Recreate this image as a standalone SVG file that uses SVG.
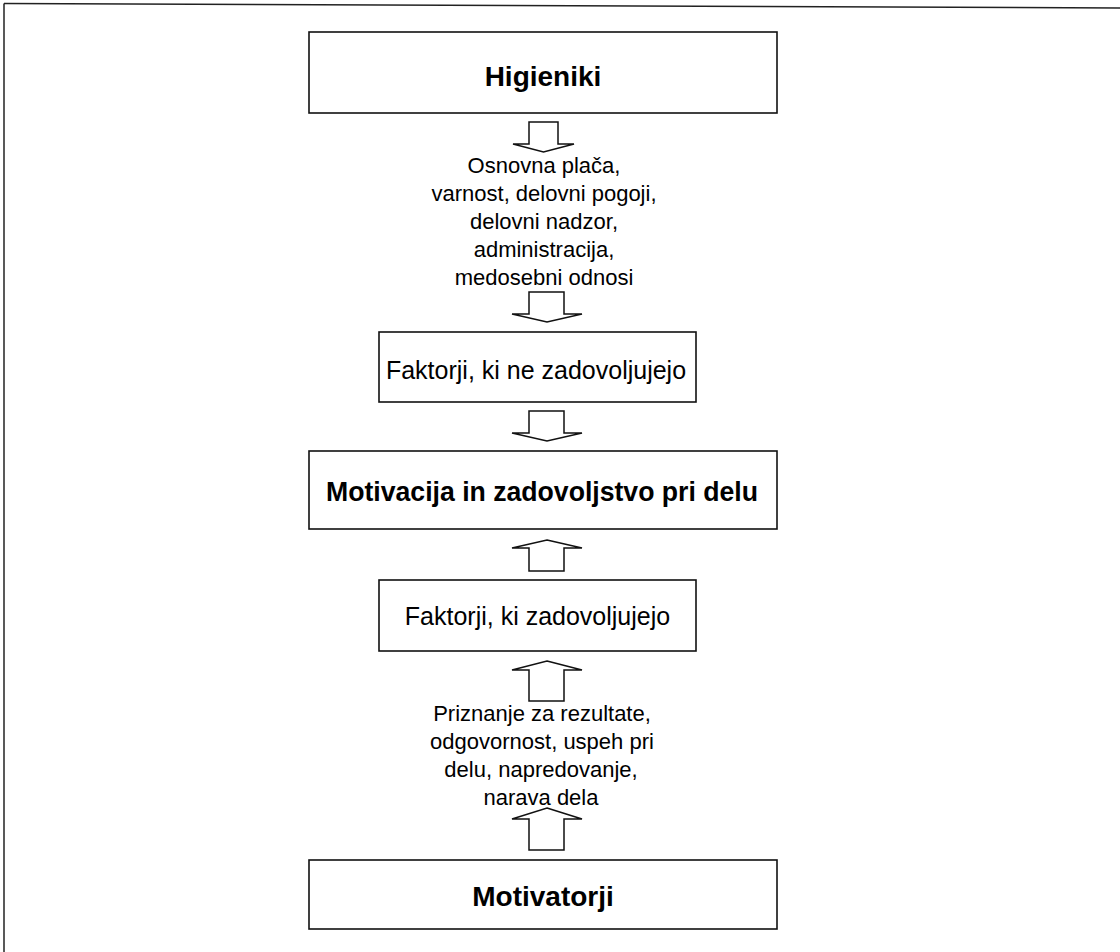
<svg xmlns="http://www.w3.org/2000/svg" width="1120" height="952" viewBox="0 0 1120 952">
  <style>
    .box { fill: #ffffff; stroke: #111111; stroke-width: 1.6; }
    .arrow { fill: none; stroke: #111111; stroke-width: 1.5; stroke-linejoin: miter; }
    .frame { stroke: #222222; stroke-width: 1.5; fill: none; }
    .title { font-family: "Liberation Sans", Arial, sans-serif; font-weight: bold; font-size: 28px; fill: #000000; text-anchor: middle; }
    .mid { font-family: "Liberation Sans", Arial, sans-serif; font-size: 25px; fill: #000000; text-anchor: middle; }
    .lab { font-family: "Liberation Sans", Arial, sans-serif; font-size: 22px; fill: #000000; text-anchor: middle; }
  </style>
  <rect x="0" y="0" width="1120" height="952" fill="#ffffff"/>
  <g id="frame">
    <line class="frame" x1="4" y1="3.5" x2="1120" y2="8"/>
    <line class="frame" x1="4" y1="3.5" x2="4" y2="952"/>
  </g>
  <g id="connectors">
    <polygon class="arrow" points="529,122 558,122 558,144 574,144 543.5,152 513,144 529,144"/>
    <polygon class="arrow" points="529,292 564,292 564,314 582,314 547,322 512,314 529,314"/>
    <polygon class="arrow" points="529,411 564,411 564,433 582,433 547,441 512,433 529,433"/>
    <polygon class="arrow" points="547,540 582,548 564,548 564,571 529,571 529,548 512,548"/>
    <polygon class="arrow" points="547,661 582,670 564,670 564,701 529,701 529,670 512,670"/>
    <polygon class="arrow" points="547,808 582,819 564,819 564,850 529,850 529,819 512,819"/>
  </g>
  <g id="node-higieniki">
    <rect class="box" x="309" y="32" width="468" height="81"/>
    <text class="title" x="543" y="86">Higieniki</text>
  </g>
  <g id="label-higieniki">
    <text class="lab" x="544" y="173">Osnovna plača,</text>
    <text class="lab" x="544" y="201">varnost, delovni pogoji,</text>
    <text class="lab" x="544" y="229">delovni nadzor,</text>
    <text class="lab" x="544" y="257">administracija,</text>
    <text class="lab" x="544" y="285">medosebni odnosi</text>
  </g>
  <g id="node-nezadovoljujejo">
    <rect class="box" x="379" y="332" width="317" height="70"/>
    <text class="mid" x="536" y="379">Faktorji, ki ne zadovoljujejo</text>
  </g>
  <g id="node-motivacija">
    <rect class="box" x="309" y="451" width="468" height="78"/>
    <text class="title" x="542" y="501" textLength="432" lengthAdjust="spacingAndGlyphs">Motivacija in zadovoljstvo pri delu</text>
  </g>
  <g id="node-zadovoljujejo">
    <rect class="box" x="379" y="580" width="317" height="71"/>
    <text class="mid" x="537.5" y="625">Faktorji, ki zadovoljujejo</text>
  </g>
  <g id="label-motivatorji">
    <text class="lab" x="542" y="721">Priznanje za rezultate,</text>
    <text class="lab" x="542" y="749">odgovornost, uspeh pri</text>
    <text class="lab" x="541" y="777">delu, napredovanje,</text>
    <text class="lab" x="541" y="805">narava dela</text>
  </g>
  <g id="node-motivatorji">
    <rect class="box" x="309" y="860" width="468" height="69"/>
    <text class="title" x="543" y="906">Motivatorji</text>
  </g>
</svg>
